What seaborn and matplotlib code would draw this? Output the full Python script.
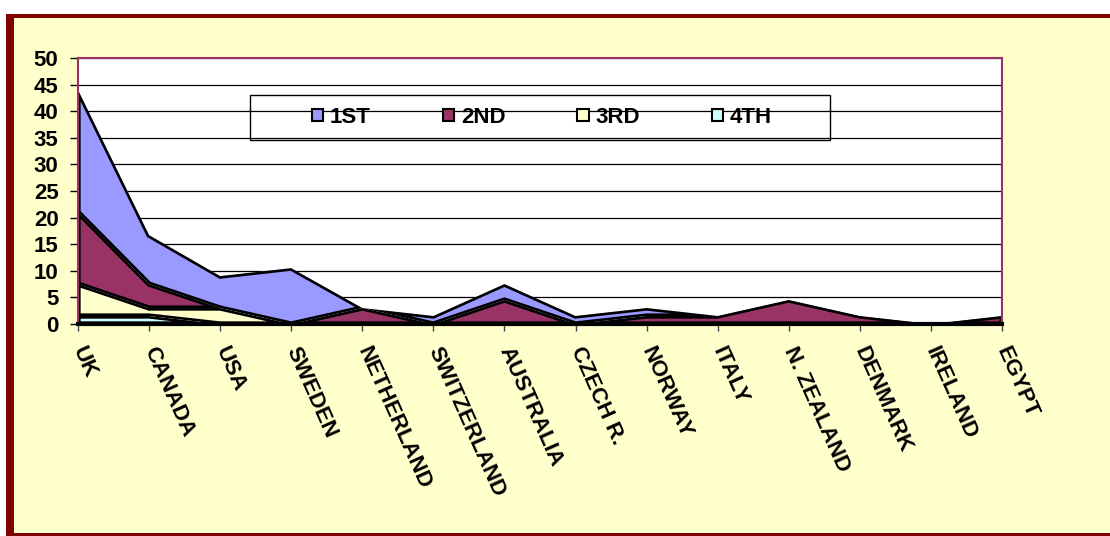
import numpy as np
import pandas as pd
import matplotlib
matplotlib.use("Agg")
import matplotlib.pyplot as plt
from matplotlib.patches import Rectangle, Patch
import seaborn as sns
import seaborn.objects as so

# ---- data ----
countries = ["UK", "CANADA", "USA", "SWEDEN", "NETHERLAND", "SWITZERLAND",
             "AUSTRALIA", "CZECH R.", "NORWAY", "ITALY", "N. ZEALAND",
             "DENMARK", "IRELAND", "EGYPT"]
first = [23, 9.2, 6, 10.5, 0, 1.5, 3, 1.5, 1.5, 0, 0, 0, 0, 0]
second = [13.5, 4.5, 0, 0, 3, 0, 4.5, 0, 1.5, 1.5, 4.5, 1.5, 0, 1.5]
third = [6, 1.5, 3, 0, 0, 0, 0, 0, 0, 0, 0, 0, 0, 0]
fourth = [1.5, 1.5, 0, 0, 0, 0, 0, 0, 0, 0, 0, 0, 0, 0]
series_names = ["1ST", "2ND", "3RD", "4TH"]
colors = {"1ST": "#9999FF", "2ND": "#993366", "3RD": "#FFFFCC", "4TH": "#CCFFFF"}
yticks = list(range(0, 51, 5))

# long table, bottom series first so that the stack goes 4TH -> 1ST
n = len(countries)
frames = []
for name, vals in [("4TH", fourth), ("3RD", third), ("2ND", second), ("1ST", first)]:
    frames.append(pd.DataFrame({"pos": np.arange(n), "value": vals, "series": name}))
df = pd.concat(frames, ignore_index=True)

sns.set_theme(style="white")
plt.rcParams["font.family"] = ["Liberation Sans", "DejaVu Sans"]
plt.rcParams["font.weight"] = "bold"
plt.rcParams["text.color"] = "black"
plt.rcParams["xtick.color"] = "black"
plt.rcParams["ytick.color"] = "black"
plt.rcParams["xtick.labelcolor"] = "black"
plt.rcParams["ytick.labelcolor"] = "black"

W, H = 1110, 536
fig = plt.figure(figsize=(W / 100, H / 100), dpi=100, facecolor="white")


def fx(x):
    return x / W


def fy(y):
    return 1 - y / H


# outer chart border and background
fig.patches.append(Rectangle((fx(6), 0), fx(1200), fy(14), transform=fig.transFigure,
                             facecolor="#800000", edgecolor="none", zorder=-20))
fig.patches.append(Rectangle((fx(14), fy(533)), fx(1200), fy(18) - fy(533),
                             transform=fig.transFigure, facecolor="#FFFFCC",
                             edgecolor="none", zorder=-19))

ax = fig.add_axes([fx(78), fy(324), fx(1002) - fx(78), fy(58) - fy(324)])

(
    so.Plot(df, x="pos", y="value", color="series")
    .add(so.Area(alpha=1, edgecolor="black", edgewidth=1.9), so.Stack(), legend=False)
    .scale(color=colors)
    .on(ax)
    .plot()
)

ax.set_facecolor("white")
ax.set_xlim(0, n - 1)
ax.set_ylim(0, 50)
ax.set_xlabel("")
ax.set_ylabel("")
ax.set_yticks(yticks)
ax.set_yticklabels([str(v) for v in yticks], fontsize=16, fontweight="bold",
                   color="black")
ax.set_xticks(range(n))
ax.set_xticklabels(countries, rotation=-66, ha="left", va="center",
                   rotation_mode="anchor", fontsize=16, fontweight="bold",
                   color="black")
ax.set_axisbelow(True)
ax.yaxis.grid(True, color="black", linewidth=0.9)
ax.xaxis.grid(False)
ax.tick_params(axis="y", left=True, direction="out", length=6, width=1,
               color="black", pad=8)
ax.tick_params(axis="x", bottom=True, direction="out", length=5, width=1,
               color="#444444", pad=12)
for side in ["top", "right", "left"]:
    ax.spines[side].set_color("#993366")
    ax.spines[side].set_linewidth(1.5)
    ax.spines[side].set_visible(True)
ax.spines["bottom"].set_color("black")
ax.spines["bottom"].set_linewidth(3)
ax.spines["bottom"].set_visible(True)

handles = [Patch(facecolor=colors[s], edgecolor="black", linewidth=1.5, label=s)
           for s in series_names]
leg = ax.legend(handles=handles, ncol=4, loc="center",
                bbox_to_anchor=(fx(542), fy(117.5)), bbox_transform=fig.transFigure,
                frameon=False, handlelength=0.5, handleheight=0.5, handletextpad=0.3,
                columnspacing=3.25, prop={"weight": "bold", "size": 16})
for t in leg.get_texts():
    t.set_color("black")
fig.patches.append(Rectangle((fx(250), fy(140)), fx(830) - fx(250), fy(95) - fy(140),
                             transform=fig.transFigure, facecolor="none",
                             edgecolor="black", linewidth=1, zorder=5))

fig.savefig("out.png", dpi=100, facecolor=fig.get_facecolor())
